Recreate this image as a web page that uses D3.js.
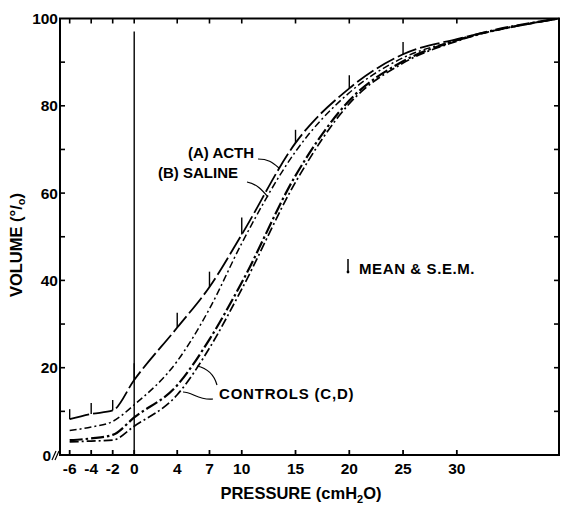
<!DOCTYPE html>
<html lang="en">
<head>
<meta charset="UTF-8">
<title>Pressure-volume curves</title>
<script src="https://d3js.org/d3.v7.min.js"></script>
<style>
  * { margin: 0; padding: 0; }
  body { background: #fff; }
  svg text { font-family: "Liberation Sans", Arial, sans-serif; font-weight: bold; fill: #000; }
</style>
</head>
<body>
<div id="chart"></div>
<script>
// pressure (cmH2O) at each measured point, last one is the 100% point
const pressure = [-6, -4, -2, 0, 4, 7, 10, 15, 20, 25, 30, 39.5];
const xTicks = [-6, -4, -2, 0, 4, 7, 10, 15, 20, 25, 30];
const yTicks = [0, 20, 40, 60, 80, 100];

// volume (% of max) per group
const acth    = [8.2, 9.4, 10.2, 17.2, 29.2, 38.5, 50.5, 71.5, 84.0, 91.8, 95.3, 100];
const saline  = [5.6, 6.4, 7.7, 11.5, 21.5, 33.5, 48.5, 69.5, 83.0, 91.0, 95.0, 100];
const controlC = [3.4, 3.8, 4.6, 8.6, 16.0, 26.5, 39.5, 64.0, 81.2, 90.2, 95.0, 100];
const controlD = [3.0, 3.2, 3.4, 6.6, 13.8, 24.5, 38.0, 62.5, 80.5, 89.8, 94.8, 100];

// S.E.M. drawn above the ACTH curve
const semPressure = [-6, -4, -2, 0, 4, 7, 10, 15, 20, 25];
const semActh = [2.3, 2.5, 2.4, 3.8, 3.4, 3.5, 3.9, 3.0, 3.0, 2.8];

const W = 562, H = 513;
const x = d3.scaleLinear().domain([-6.9, 39.5]).range([60, 559]);
const y = d3.scaleLinear().domain([0, 100]).range([455, 18.5]);

const svg = d3.select("#chart").append("svg")
    .attr("width", W).attr("height", H);

// frame
svg.append("rect")
    .attr("x", x.range()[0]).attr("y", y.range()[1])
    .attr("width", x.range()[1] - x.range()[0])
    .attr("height", y.range()[0] - y.range()[1])
    .attr("fill", "none").attr("stroke", "#000").attr("stroke-width", 2);

// inward ticks on all four sides
const yMinor = d3.range(10, 100, 10);
svg.append("g")
    .selectAll("line")
    .data(xTicks)
    .join("line")
    .attr("x1", d => x(d)).attr("x2", d => x(d))
    .attr("y1", y(0)).attr("y2", y(0) - 5)
    .attr("stroke", "#000").attr("stroke-width", 1.8);
svg.append("g")
    .selectAll("line")
    .data(xTicks)
    .join("line")
    .attr("x1", d => x(d)).attr("x2", d => x(d))
    .attr("y1", y(100)).attr("y2", y(100) + 5)
    .attr("stroke", "#000").attr("stroke-width", 1.6);
svg.append("g")
    .selectAll("line")
    .data(yMinor)
    .join("line")
    .attr("x1", x.range()[0]).attr("x2", x.range()[0] + 5)
    .attr("y1", d => y(d)).attr("y2", d => y(d))
    .attr("stroke", "#000").attr("stroke-width", 1.6);
svg.append("g")
    .selectAll("line")
    .data(yMinor)
    .join("line")
    .attr("x1", x.range()[1]).attr("x2", x.range()[1] - 5)
    .attr("y1", d => y(d)).attr("y2", d => y(d))
    .attr("stroke", "#000").attr("stroke-width", 1.6);

// tick labels
svg.append("g")
    .selectAll("text")
    .data(xTicks)
    .join("text")
    .attr("x", d => x(d))
    .attr("y", 474)
    .attr("text-anchor", "middle")
    .attr("font-size", 15.5)
    .text(d => d < 0 ? "-" + Math.abs(d) : d);

svg.append("g")
    .selectAll("text")
    .data(yTicks)
    .join("text")
    .attr("x", d => d === 0 ? 51 : 58)
    .attr("y", d => y(d) + 5.5)
    .attr("text-anchor", "end")
    .attr("font-size", 15.5)
    .text(d => d);

// axis break marks near the origin
svg.append("path")
    .attr("d", "M52,460 L56,451 M55,460 L59,451")
    .attr("stroke", "#000").attr("stroke-width", 1.2).attr("fill", "none");

// vertical reference line at 0 cmH2O
svg.append("line")
    .attr("x1", x(0)).attr("x2", x(0))
    .attr("y1", y(97)).attr("y2", y(0))
    .attr("stroke", "#000").attr("stroke-width", 1.4);

// curves
const series = [
    { v: acth, dash: "20,4", w: 1.8 },
    { v: saline, dash: "7,3,2,3", w: 1.5 },
    { v: controlC, dash: "13,3,2.5,3", w: 2.2 },
    { v: controlD, dash: "9,3,2,3", w: 1.7 }
];
const line = d3.line()
    .x(d => x(d[0]))
    .y(d => y(d[1]))
    .curve(d3.curveMonotoneX);

svg.append("g")
    .selectAll("path")
    .data(series)
    .join("path")
    .attr("d", s => line(pressure.map((p, i) => [p, s.v[i]])))
    .attr("fill", "none")
    .attr("stroke", "#000")
    .attr("stroke-width", s => s.w)
    .attr("stroke-dasharray", s => s.dash);

// S.E.M. bars
svg.append("g")
    .selectAll("line")
    .data(semPressure)
    .join("line")
    .attr("x1", d => x(d)).attr("x2", d => x(d))
    .attr("y1", d => y(acth[pressure.indexOf(d)]))
    .attr("y2", (d, i) => y(acth[pressure.indexOf(d)] + semActh[i]))
    .attr("stroke", "#000").attr("stroke-width", 1.4);

// labels with leader lines
svg.append("text").attr("x", 188).attr("y", 158).attr("font-size", 15).text("(A) ACTH");
svg.append("text").attr("x", 158).attr("y", 178).attr("font-size", 15).text("(B) SALINE");
svg.append("text").attr("x", 219).attr("y", 399).attr("font-size", 15)
    .attr("letter-spacing", 0.8).text("CONTROLS (C,D)");

const leaders = [
    "M258,159 C268,159 272,162 279,168",
    "M247,182 C257,184 262,190 268,197",
    "M217,385 C214,374 206,368 197,366",
    "M213,399 C200,401 192,392 183,392"
];
svg.append("g")
    .selectAll("path")
    .data(leaders)
    .join("path")
    .attr("d", d => d)
    .attr("fill", "none").attr("stroke", "#000").attr("stroke-width", 1.2);

// S.E.M. key
svg.append("line")
    .attr("x1", 348).attr("x2", 348).attr("y1", 259).attr("y2", 272)
    .attr("stroke", "#000").attr("stroke-width", 1.5);
svg.append("circle").attr("cx", 348).attr("cy", 272).attr("r", 1.4).attr("fill", "#000");
svg.append("text").attr("x", 359).attr("y", 274).attr("font-size", 15)
    .attr("letter-spacing", 0.6).text("MEAN & S.E.M.");

// axis titles
const xt = svg.append("text")
    .attr("x", 301).attr("y", 499)
    .attr("text-anchor", "middle")
    .attr("font-size", 16.5);
xt.append("tspan").text("PRESSURE (cmH");
xt.append("tspan").attr("font-size", 11).attr("dy", 4).text("2");
xt.append("tspan").attr("dy", -4).text("O)");

const yt = svg.append("text")
    .attr("transform", "translate(22,245) rotate(-90)")
    .attr("text-anchor", "middle")
    .attr("font-size", 16.5);
yt.append("tspan").text("VOLUME (°/");
yt.append("tspan").attr("font-size", 11).attr("dy", 3).text("o");
yt.append("tspan").attr("dy", -3).text(")");
</script>
</body>
</html>
